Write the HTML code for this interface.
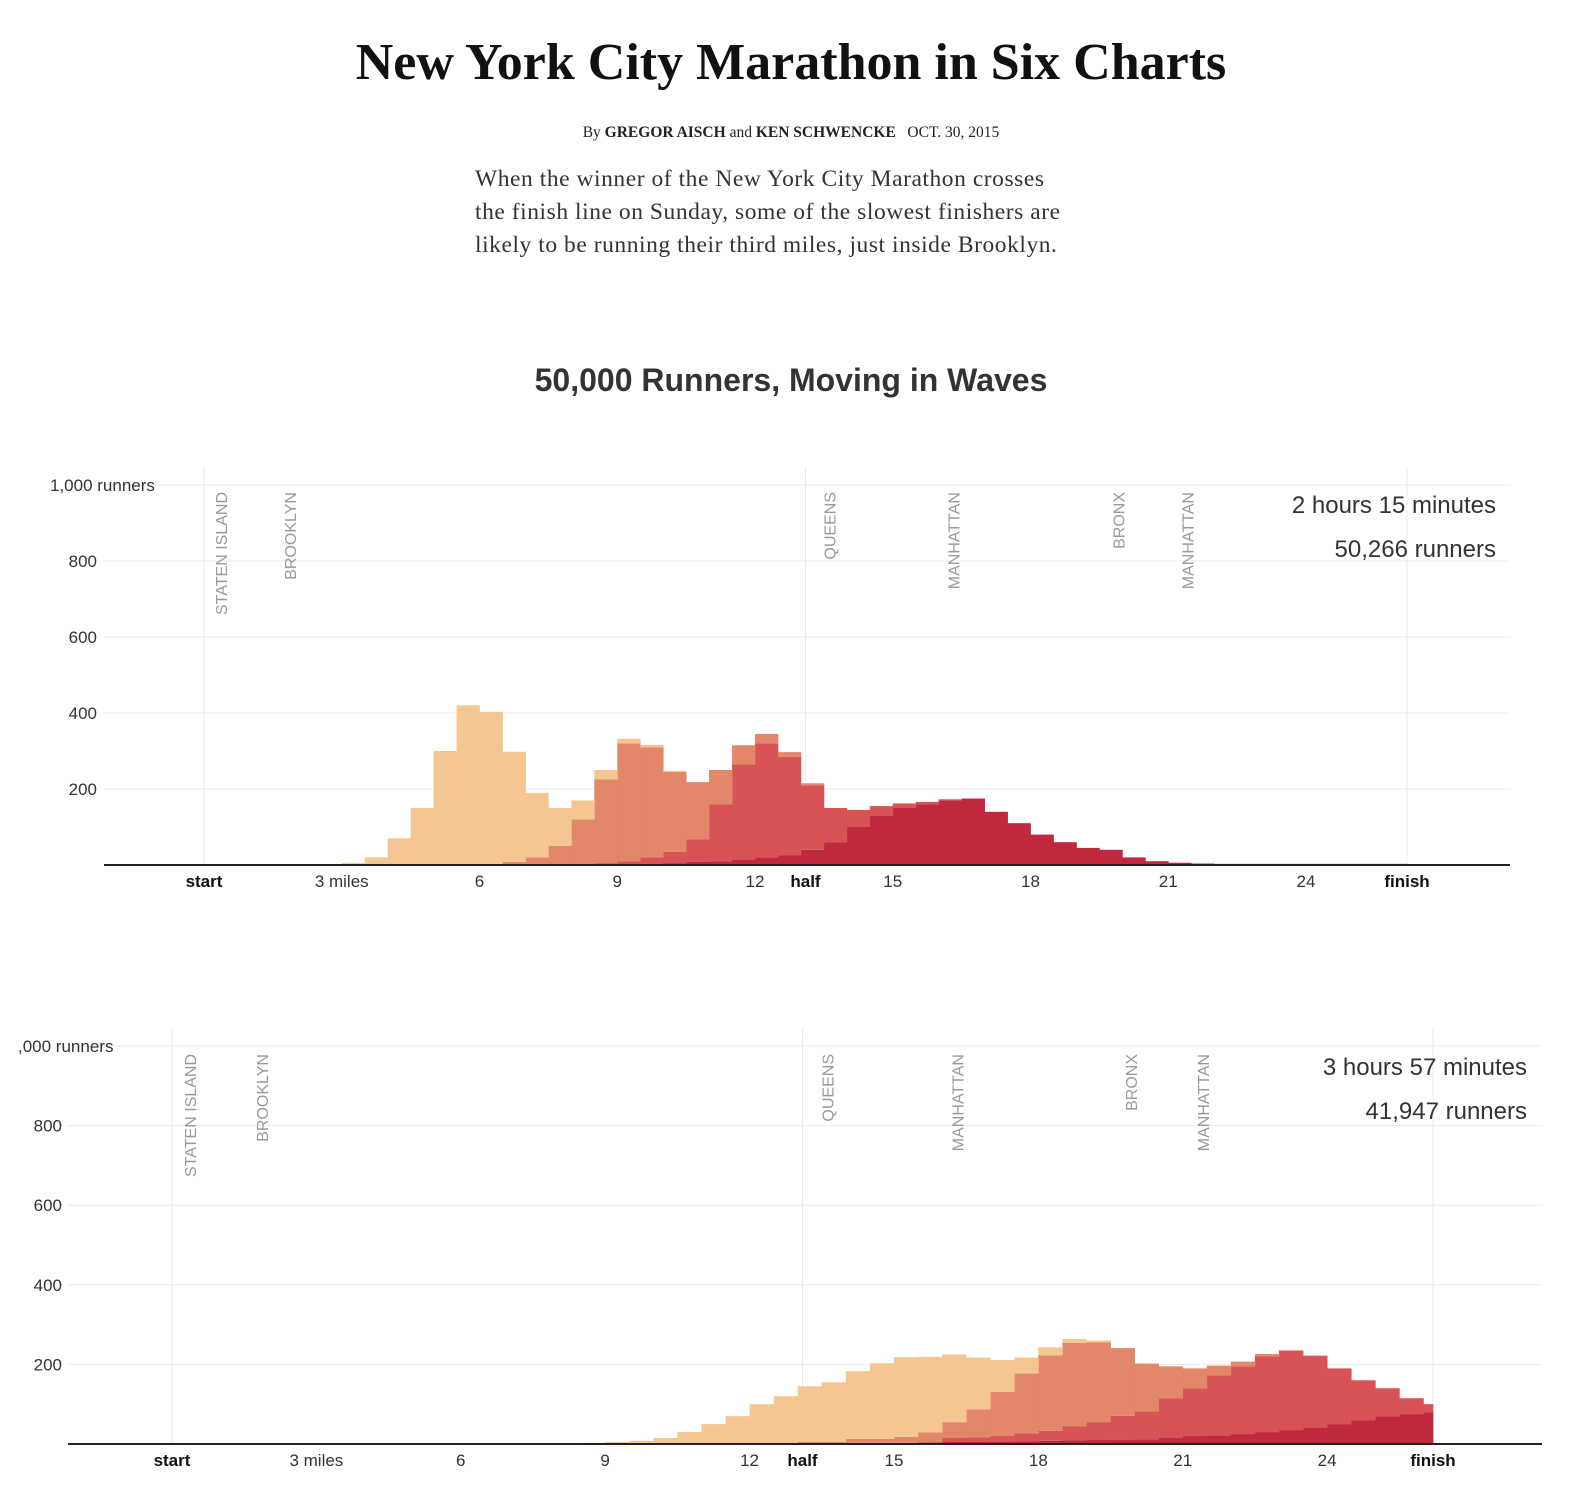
<!DOCTYPE html>
<html><head><meta charset="utf-8"><style>
body{margin:0;background:#fff;width:1582px;height:1504px;overflow:hidden;position:relative}
.serif{font-family:"Liberation Serif",serif}
#title{position:absolute;top:33px;left:0;width:1582px;text-align:center;font-size:52px;font-weight:bold;color:#111}
#byline{position:absolute;top:124px;left:0;width:1582px;text-align:center;font-size:15.5px;font-weight:bold;color:#222}
#intro{position:absolute;top:163px;left:475px;width:700px;font-size:23.5px;line-height:33px;color:#333;white-space:nowrap;letter-spacing:0.55px}
#ctitle{position:absolute;top:362px;left:0;width:1582px;text-align:center;font-family:"Liberation Sans",sans-serif;font-weight:bold;font-size:32px;color:#333}
svg{position:absolute;left:0;top:0}
</style></head><body>
<div id="title" class="serif">New York City Marathon in Six Charts</div>
<div id="byline" class="serif"><span style="font-weight:normal">By</span> GREGOR AISCH <span style="font-weight:normal">and</span> KEN SCHWENCKE &nbsp; <span style="font-weight:normal">OCT. 30, 2015</span></div>
<div id="intro" class="serif">When the winner of the New York City Marathon crosses<br>the finish line on Sunday, some of the slowest finishers are<br>likely to be running their third miles, just inside Brooklyn.</div>
<div id="ctitle">50,000 Runners, Moving in Waves</div>
<svg id="s" width="1582" height="1504" font-family="Liberation Sans, sans-serif"></svg>
<script>
const tickMiles=[0,3,6,9,12,13.1,15,18,21,24,26.2];
const tickLabels=["start","3 miles","6","9","12","half","15","18","21","24","finish"];
const yTicks=[200,400,600,800,1000];
const regionMiles=[0.35,1.85,13.6,16.3,19.9,21.4];
const regionNames=["STATEN ISLAND","BROOKLYN","QUEENS","MANHATTAN","BRONX","MANHATTAN"];
// chart 1 (2h15m) waves: start bin index (0.5-mile bins) + values
const c1w1Start=6, c1w1=[5,20,70,150,300,420,400,290,170,100,50,25,12,6,3];
const c1w2Start=12, c1w2=[3,8,20,50,120,220,310,290,210,150,90,50,25,12,5];
const c1w3Start=17, c1w3=[5,10,20,30,60,150,250,300,260,170,90,45,25,12,6,3];
const c1w4Start=20, c1w4=[5,8,10,15,20,25,40,60,100,130,150,160,170,175,140,110,80,60,45,40,20,10,6,4,3,3,3,3,3,3,3,3,3];
// chart 2 (3h57m)
const c2w1Start=17, c2w1=[3,5,8,15,30,50,70,100,120,140,150,170,190,200,190,170,130,80,40,20,10,5];
const c2w2Start=26, c2w2=[5,5,10,10,15,25,40,70,110,150,190,210,200,170,120,80,50,25,12,6];
const c2w3Start=32, c2w3=[10,12,15,20,25,35,45,60,70,100,120,150,170,190,200,180,140,100,70,40,20];
const c2w4Start=28, c2w4=[3,3,3,4,5,5,6,7,8,9,10,11,12,15,20,22,25,30,35,42,50,60,70,75,80];
const colors=["#c0283d","#d75356","#e2876a","#f4c691"];
const svg=document.getElementById('s');
const NS="http://www.w3.org/2000/svg";
function el(t,a,p){const e=document.createElementNS(NS,t);for(const k in a)e.setAttribute(k,a[k]);(p||svg).appendChild(e);return e;}
function chart(cfg,waves,cname){
  const g=el('g',{});
  
  
  const X=m=>cfg.x0+(cfg.x1-cfg.x0)*m/26.2;
  const Y=v=>cfg.base-v*cfg.k;
  yTicks.forEach((t,i)=>{
    const l=el('line',{x1:cfg.left,x2:cfg.right,y1:Y(t),y2:Y(t),stroke:'#ebebeb','stroke-width':1},g);
    
    
    const top=t==1000;
    const tx=el('text',{x:top?cfg.tlx:cfg.lx,y:Y(t)+6,'text-anchor':top?'start':'end','font-size':17,fill:'#333'},g);
    tx.textContent=top?cfg.topLabel:String(t);
    
    
  });
  [0,13.1,26.2].forEach(m=>{
    const l=el('line',{x1:X(m),x2:X(m),y1:Y(1000)-18,y2:cfg.base,stroke:'#ebebeb'},g);
    
    
  });
  const nb=53, cum=new Array(nb).fill(0);
  waves.forEach((w,wi)=>{
    for(let i=0;i<w.vals.length;i++){
      const b=w.start+i,v=w.vals[i]; if(!v) continue;
      const m0=b*0.5,m1=Math.min(b*0.5+0.5,26.2);
      const r=el('rect',{x:X(m0),width:X(m1)-X(m0)+0.4,y:Y(cum[b]+v),height:v*cfg.k,fill:colors[wi]},g);
      
      
      cum[b]+=v;
    }
  });
  const ax=el('line',{x1:cfg.left,x2:cfg.right,y1:cfg.base,y2:cfg.base,stroke:'#222','stroke-width':2},g);
  
  
  tickMiles.forEach((m,i)=>{
    const b=["start","half","finish"].includes(tickLabels[i]);
    const t=el('text',{x:X(m),y:cfg.base+22,'text-anchor':'middle','font-size':17,fill:b?'#111':'#333','font-weight':b?'bold':'normal'},g);
    t.textContent=tickLabels[i];
    
    
  });
  regionMiles.forEach((m,i)=>{
    const t=el('text',{transform:`translate(${X(m)+7},${cfg.rtop}) rotate(-90)`,'text-anchor':'end','font-size':16,fill:'#999'},g);
    t.textContent=regionNames[i];
    
    
  });
  cfg.info.forEach((s,i)=>{
    const t=el('text',{x:cfg.ix,y:cfg.iy+i*44,'text-anchor':'end','font-size':24,fill:'#333'},g);
    t.textContent=s;
    
    
  });
}
chart({x0:204,x1:1407,base:865,k:0.38,left:104,right:1510,lx:97,tlx:50,topLabel:'1,000  runners',rtop:492,ix:1496,iy:513,info:['2 hours 15 minutes','50,266 runners']},
  [{start:c1w4Start,vals:c1w4},{start:c1w3Start,vals:c1w3},{start:c1w2Start,vals:c1w2},{start:c1w1Start,vals:c1w1}],'chart-2h15');
chart({x0:172,x1:1433,base:1444,k:0.398,left:68,right:1542,lx:62,tlx:18,topLabel:',000  runners',rtop:1054,ix:1527,iy:1075,info:['3 hours 57 minutes','41,947 runners']},
  [{start:c2w4Start,vals:c2w4},{start:c2w3Start,vals:c2w3},{start:c2w2Start,vals:c2w2},{start:c2w1Start,vals:c2w1}],'chart-3h57');
</script>
</body></html>
